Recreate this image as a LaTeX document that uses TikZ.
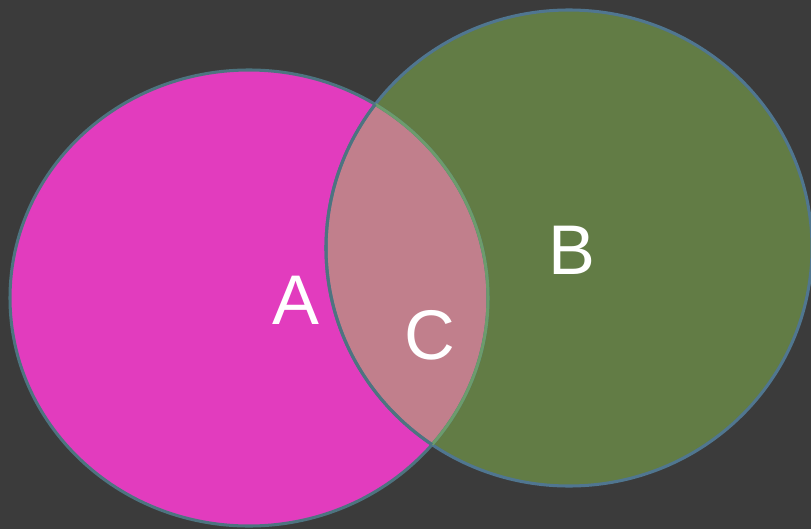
\documentclass[tikz,border=0pt]{standalone}
\usepackage{fontspec}
\setmainfont{Liberation Sans}
\usepackage{tikz}
\usetikzlibrary{positioning}

\definecolor{bgdark}{HTML}{3B3B3B}
\definecolor{setA}{HTML}{E23CBE}
\definecolor{setB}{HTML}{627C45}
\definecolor{setC}{HTML}{C17F8C}
\definecolor{rimA}{HTML}{4D7480}
\definecolor{rimB}{HTML}{507690}
\definecolor{rimC}{HTML}{6C9C6C}

\begin{document}
\begin{tikzpicture}[
    x=0.03cm, y=-0.03cm,
    rim/.style={line width=2.6pt},
    every node/.style={text=white, font=\fontsize{60}{72}\selectfont}
  ]
  % ---- background ----
  \fill[bgdark] (0,0) rectangle (811,529);
  \useasboundingbox (0,0) rectangle (811,529);

  % ---- sets ----
  \def\setApath{(249,298) ellipse [x radius=239, y radius=228]}
  \def\setBpath{(569,248) ellipse [x radius=243, y radius=238]}

  \fill[setA] \setApath;
  \fill[setB] \setBpath;
  \begin{scope}
    \clip \setApath;
    \fill[setC] \setBpath;
  \end{scope}

  % Outlines
  \draw[rim, rimA] \setApath;
  \draw[rim, rimB] \setBpath;
  \begin{scope}
    \clip \setBpath;
    \draw[rim, rimC] \setApath;
  \end{scope}
  \begin{scope}
    \clip \setApath;
    \draw[rim, rimA] \setBpath;
  \end{scope}

  % Labels
  \node (la) at (296,300) {A};
  \node (lb) at (572,250) {B};
  \node (lc) at (430,335) {C};
\end{tikzpicture}
\end{document}
